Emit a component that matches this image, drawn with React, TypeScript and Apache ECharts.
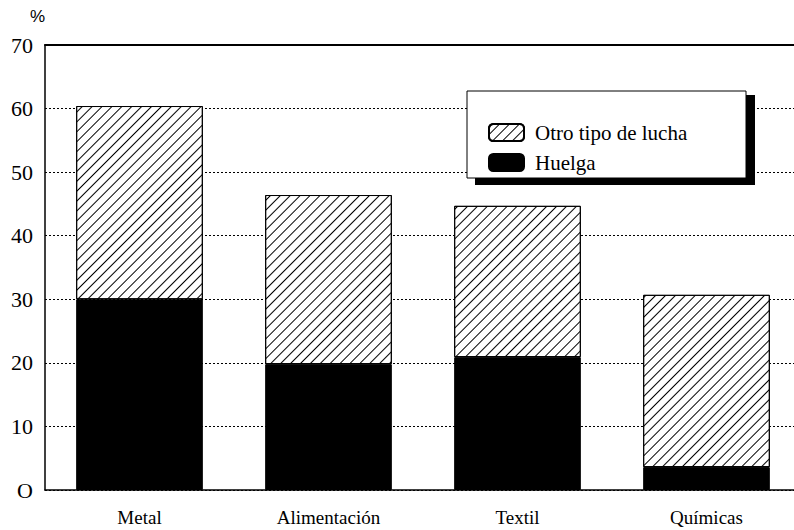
import React, { useEffect, useRef } from "react";
import * as echarts from "echarts";

const categories = ["Metal", "Alimentación", "Textil", "Químicas"];
const huelga = [30, 19.8, 20.9, 3.6];
const otroTipo = [30.4, 26.6, 23.8, 27.1];
const yMin = 0;
const yMax = 70;
const yStep = 10;

const SERIF = "Times New Roman, Liberation Serif, DejaVu Serif, serif";
const SANS = "Arial, Liberation Sans, sans-serif";

export default function App() {
  const ref = useRef<HTMLDivElement>(null);
  useEffect(() => {
    document.body.style.margin = "0";
    const chart = echarts.init(ref.current!, null, { renderer: "svg" });
    const hatch = {
      symbol: "rect",
      symbolSize: 1,
      color: "#000",
      backgroundColor: "#fff",
      dashArrayX: [1, 0],
      dashArrayY: [1, 5.4],
      rotation: -Math.PI / 4,
    };
    chart.setOption({
      animation: false,
      backgroundColor: "#fff",
      textStyle: { fontFamily: SERIF },
      grid: {
        left: 45,
        width: 756,
        top: 45,
        bottom: 40,
        containLabel: false,
        outerBoundsMode: "none",
      },
      legend: {
        orient: "vertical",
        left: 483,
        top: 117,
        z: 10,
        itemWidth: 35,
        itemHeight: 17,
        itemGap: 9,
        data: ["Otro tipo de lucha", "Huelga"],
        textStyle: {
          fontFamily: SERIF,
          fontSize: 21,
          color: "#000",
          padding: [0, 0, 0, 6],
        },
      },
      graphic: [
        {
          type: "rect",
          z: 1,
          shape: { x: 475, y: 95, width: 280, height: 90 },
          style: { fill: "#000" },
        },
        {
          type: "rect",
          z: 2,
          shape: { x: 467, y: 91, width: 279, height: 87 },
          style: { fill: "#fff", stroke: "#000", lineWidth: 1 },
        },
      ],
      xAxis: [
        {
          type: "category",
          data: categories,
          axisLine: { show: true, lineStyle: { color: "#000", width: 1.5 } },
          axisTick: { show: false },
          axisLabel: {
            fontFamily: SERIF,
            fontSize: 19,
            lineHeight: 20,
            color: "#000",
            margin: 17,
          },
        },
        {
          type: "category",
          position: "top",
          data: categories,
          axisLine: { show: true, lineStyle: { color: "#000", width: 2 } },
          axisTick: { show: false },
          axisLabel: { show: false },
        },
      ],
      yAxis: {
        type: "value",
        min: yMin,
        max: yMax,
        interval: yStep,
        name: "%",
        nameLocation: "end",
        nameGap: 20,
        nameTextStyle: {
          fontFamily: SANS,
          fontSize: 17,
          color: "#000",
          align: "right",
        },
        axisLine: { show: true, lineStyle: { color: "#000", width: 1.5 } },
        axisTick: { show: false },
        axisLabel: {
          fontFamily: SERIF,
          fontSize: 22,
          color: "#000",
          margin: 12,
          formatter: (v: number) => (v === 0 ? "O" : String(v)),
        },
        splitLine: {
          show: true,
          lineStyle: { color: "#000", width: 1, type: [2, 2] },
        },
      },
      series: [
        {
          name: "Huelga",
          type: "bar",
          stack: "total",
          data: huelga,
          barCategoryGap: "33%",
          itemStyle: { color: "#000", borderColor: "#000", borderWidth: 1 },
        },
        {
          name: "Otro tipo de lucha",
          type: "bar",
          stack: "total",
          data: otroTipo,
          barCategoryGap: "33%",
          itemStyle: {
            color: "#fff",
            borderColor: "#000",
            borderWidth: 1,
            decal: hatch,
          },
        },
      ],
    });
    return () => chart.dispose();
  }, []);
  return <div ref={ref} style={{ width: 794, height: 530 }} />;
}
